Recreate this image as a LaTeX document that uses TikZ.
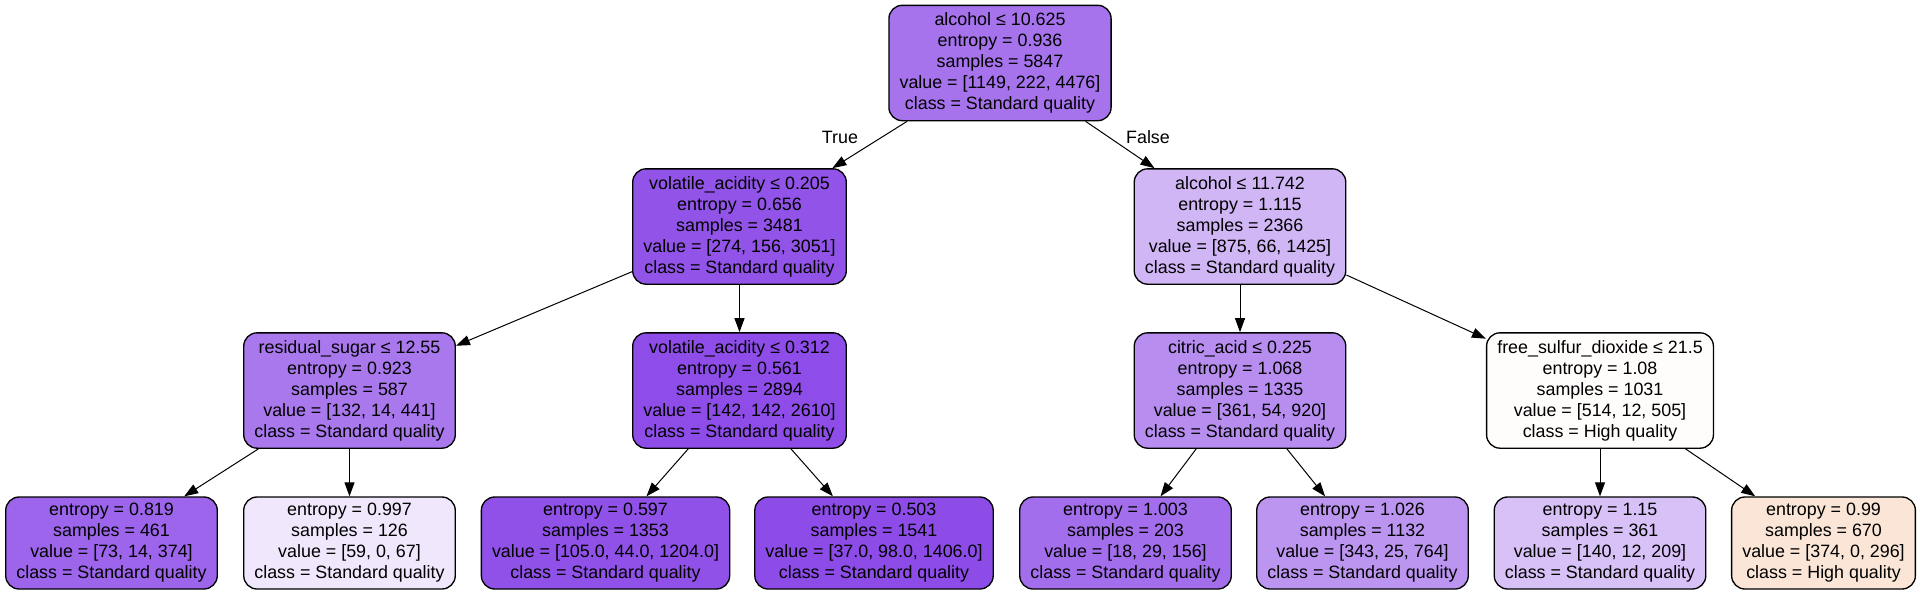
\documentclass[tikz,border=0pt]{standalone}
\usepackage{fontspec}
\setmainfont{Liberation Sans}
\usepackage{tikz}
\usetikzlibrary{arrows.meta}

\definecolor{n-root}{RGB}{166,115,237}
\definecolor{n-vol1}{RGB}{146,84,232}
\definecolor{n-alc2}{RGB}{209,182,245}
\definecolor{n-res}{RGB}{169,120,237}
\definecolor{n-vol2}{RGB}{142,77,232}
\definecolor{n-cit}{RGB}{183,141,240}
\definecolor{n-free}{RGB}{255,253,252}
\definecolor{l-1}{RGB}{157,101,235}
\definecolor{l-2}{RGB}{240,231,252}
\definecolor{l-3}{RGB}{144,81,232}
\definecolor{l-4}{RGB}{141,76,231}
\definecolor{l-5}{RGB}{163,110,236}
\definecolor{l-6}{RGB}{188,149,241}
\definecolor{l-7}{RGB}{216,193,247}
\definecolor{l-8}{RGB}{250,229,214}

\begin{document}
\begin{tikzpicture}[x=0.75pt,y=-0.75pt,->,>={Triangle[length=10.5pt,width=7.5pt]},line width=0.75pt]
    \tikzstyle{tree node}=[rectangle,rounded corners=10pt,draw=black,line width=1pt,align=center,
        inner xsep=8pt,inner ysep=2pt,font=\fontsize{13.4}{15.75}\selectfont]
    \tikzstyle{split node}=[tree node,minimum height=86.5pt]
    \tikzstyle{leaf node}=[tree node,minimum height=69pt]
    \tikzstyle{annot}=[font=\fontsize{13.4}{15.75}\selectfont,inner sep=0pt]

    \useasboundingbox (0,0) rectangle (1922,596);

    % Draw the split nodes
    \node[split node,fill=n-root] (S-0) at (1000,63) {alcohol ≤ 10.625\\entropy = 0.936\\samples = 5847\\value = [1149, 222, 4476]\\class = Standard quality};
    \node[split node,fill=n-vol1] (S-1) at (739.5,226.5) {volatile\_acidity ≤ 0.205\\entropy = 0.656\\samples = 3481\\value = [274, 156, 3051]\\class = Standard quality};
    \node[split node,fill=n-alc2] (S-2) at (1240,226.5) {alcohol ≤ 11.742\\entropy = 1.115\\samples = 2366\\value = [875, 66, 1425]\\class = Standard quality};
    \node[split node,fill=n-res] (S-11) at (349.5,390.5) {residual\_sugar ≤ 12.55\\entropy = 0.923\\samples = 587\\value = [132, 14, 441]\\class = Standard quality};
    \node[split node,fill=n-vol2] (S-12) at (739.5,390.5) {volatile\_acidity ≤ 0.312\\entropy = 0.561\\samples = 2894\\value = [142, 142, 2610]\\class = Standard quality};
    \node[split node,fill=n-cit] (S-21) at (1240,390.5) {citric\_acid ≤ 0.225\\entropy = 1.068\\samples = 1335\\value = [361, 54, 920]\\class = Standard quality};
    \node[split node,fill=n-free] (S-22) at (1600,390.5) {free\_sulfur\_dioxide ≤ 21.5\\entropy = 1.08\\samples = 1031\\value = [514, 12, 505]\\class = High quality};

    % Draw the leaves
    \node[leaf node,fill=l-1] (L-1) at (111.5,543) {entropy = 0.819\\samples = 461\\value = [73, 14, 374]\\class = Standard quality};
    \node[leaf node,fill=l-2] (L-2) at (349.5,543) {entropy = 0.997\\samples = 126\\value = [59, 0, 67]\\class = Standard quality};
    \node[leaf node,fill=l-3] (L-3) at (605.5,543) {entropy = 0.597\\samples = 1353\\value = [105.0, 44.0, 1204.0]\\class = Standard quality};
    \node[leaf node,fill=l-4] (L-4) at (874,543) {entropy = 0.503\\samples = 1541\\value = [37.0, 98.0, 1406.0]\\class = Standard quality};
    \node[leaf node,fill=l-5] (L-5) at (1125.5,543) {entropy = 1.003\\samples = 203\\value = [18, 29, 156]\\class = Standard quality};
    \node[leaf node,fill=l-6] (L-6) at (1362.5,543) {entropy = 1.026\\samples = 1132\\value = [343, 25, 764]\\class = Standard quality};
    \node[leaf node,fill=l-7] (L-7) at (1600,543) {entropy = 1.15\\samples = 361\\value = [140, 12, 209]\\class = Standard quality};
    \node[leaf node,fill=l-8] (L-8) at (1823.5,543) {entropy = 0.99\\samples = 670\\value = [374, 0, 296]\\class = High quality};

    \path (S-0) edge (S-1);
    \path (S-0) edge (S-2);
    \path (S-1) edge (S-11);
    \path (S-1) edge (S-12);
    \path (S-2) edge (S-21);
    \path (S-2) edge (S-22);
    \path (S-11) edge (L-1);
    \path (S-11) edge (L-2);
    \path (S-12) edge (L-3);
    \path (S-12) edge (L-4);
    \path (S-21) edge (L-5);
    \path (S-21) edge (L-6);
    \path (S-22) edge (L-7);
    \path (S-22) edge (L-8);
    % Annotate the first split
    \node[annot] (T) at (840,137) {True};
    \node[annot] (F) at (1148,137) {False};
\end{tikzpicture}
\end{document}
